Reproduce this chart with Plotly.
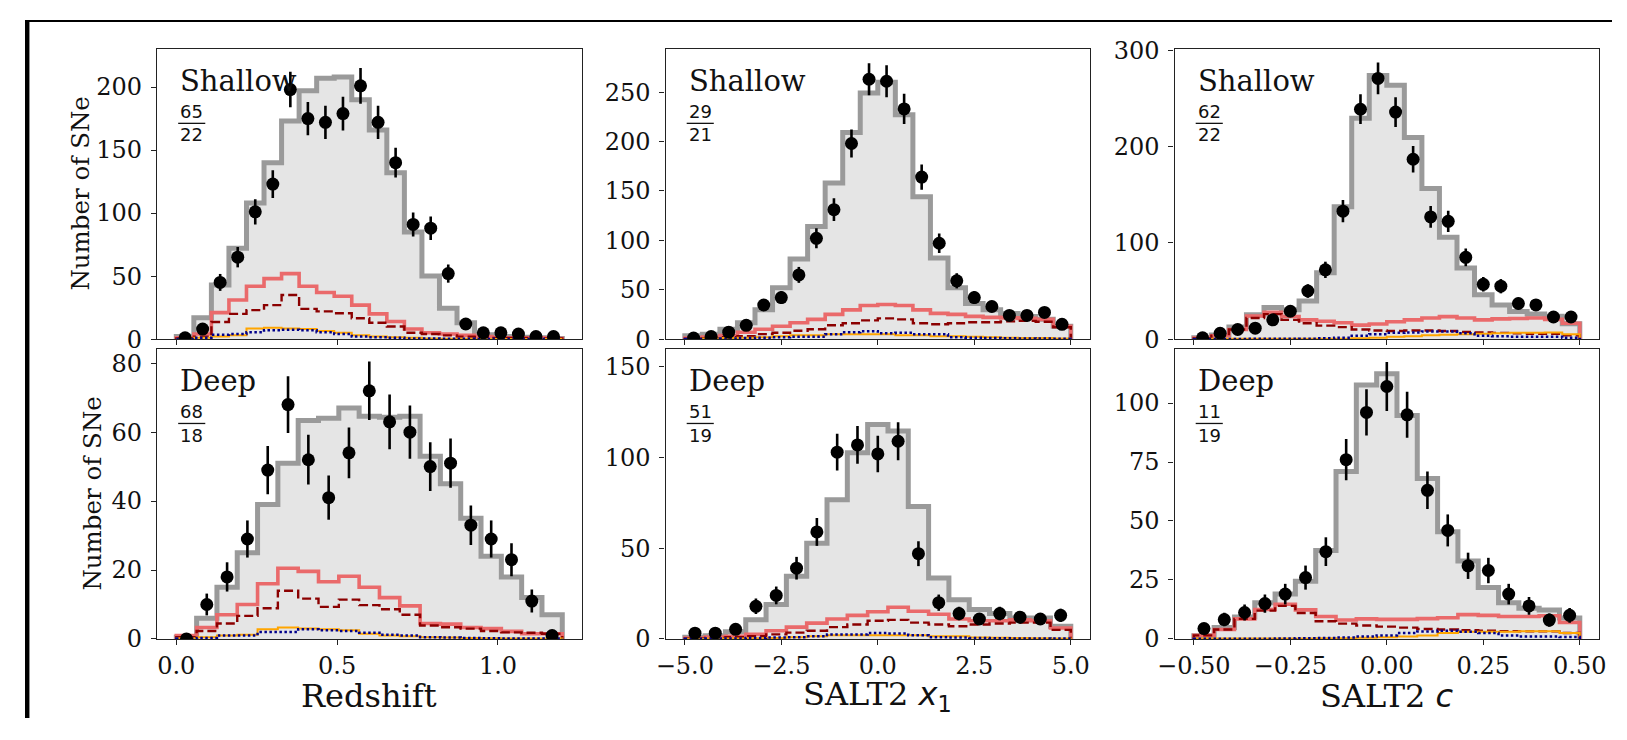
import numpy as np
import plotly.graph_objects as go

# The page body keeps the browser's 8px margin, so the figure is drawn at (8, 8)
# and sized so that no scrollbars appear in the 1627x740 window.
OFF = 8
W, H = 1627 - 2 * OFF, 740 - 2 * OFF

# ---------------- data ----------------
z_edges_shallow = np.linspace(0.0, 1.2, 23)
z_edges_deep = np.linspace(0.0, 1.2, 20)
x1_edges_shallow = np.linspace(-5.0, 5.0, 23)
x1_edges_deep = np.linspace(-5.0, 5.0, 20)
c_edges_shallow = np.linspace(-0.5, 0.5, 23)
c_edges_deep = np.linspace(-0.5, 0.5, 20)

# Redshift, Shallow
za_data = [1, 8, 45, 65, 101, 123, 198, 175, 172, 179, 201, 172, 140, 91, 88, 52, 12, 5, 5, 4, 2, 2]
za_sim = [2, 17, 43, 72, 108, 140, 173, 197, 207, 208, 190, 166, 132, 85, 50, 24.5, 13, 3.5, 2, 1.5, 1, 0.5]
za_red = [1, 4, 21, 31, 42, 48, 52, 42, 37, 34, 27, 20, 14, 8, 5, 4, 3, 2, 1, 1, 1, 0.5]
za_darkred = [0.5, 2, 13.6, 20, 23, 27, 35, 24, 22, 20.5, 16.5, 13, 10, 5, 4, 3, 2, 1.5, 1, 1, 0.5, 0.5]
za_orange = [0, 1, 2, 3, 8.5, 9, 8.5, 8, 6.5, 5, 3, 2, 1.5, 1, 0.5, 0.3, 0.2, 0.1, 0, 0, 0, 0]
za_blue = [0, 1, 3.5, 4, 5.5, 7, 7.5, 7, 5.5, 4, 2, 1.5, 1, 0.5, 0.4, 0.3, 0.2, 0.1, 0, 0, 0, 0]

# Redshift, Deep
zb_data = [0, 10, 18, 29, 49, 68, 52, 41, 54, 72, 63, 60, 50, 51, 33, 29, 23, 11, 1]
zb_sim = [0.5, 6, 15, 25, 39, 51, 63.4, 64, 67, 64.6, 64.3, 64.6, 53, 45, 35, 24, 18, 12, 7]
zb_red = [1, 3.3, 7, 10, 16, 20.5, 19.6, 16.6, 18.2, 15, 12, 9.6, 4.5, 4.3, 3.3, 3, 2.2, 1.5, 1.5]
zb_darkred = [0.5, 2.3, 4.5, 6.7, 8.9, 14, 11.7, 9.3, 11.4, 9.8, 8.6, 7, 3.9, 3.4, 3, 2.3, 1.9, 1.8, 1.5]
zb_orange = [0.2, 0.5, 1, 1.2, 2.8, 3.3, 3, 2.8, 2.5, 1.5, 1, 0.8, 0.5, 0.4, 0.3, 0.2, 0.1, 0.1, 0.1]
zb_blue = [0.1, 0.3, 1, 1, 2, 2, 2.8, 2.5, 2.3, 1.8, 1.2, 1, 0.5, 0.4, 0.3, 0.2, 0.1, 0.1, 0.1]

# SALT2 x1, Shallow
xa_data = [1, 2.6, 7, 14, 34.5, 42, 65, 102, 131, 198, 263, 261, 233, 164, 97, 59, 42, 33, 24, 24, 27, 15]
xa_sim = [3.5, 5, 10, 16.6, 29.6, 52, 81, 114, 158, 209, 249, 260, 227, 144, 82, 52, 36, 29.6, 26, 23, 20, 13]
xa_red = [1, 2, 3.5, 7, 10, 13, 16.6, 20, 25, 29.6, 34, 35, 34, 29.6, 26, 25, 23, 22, 21.5, 21, 20, 13]
xa_darkred = [0.5, 1, 2, 3, 5, 6.5, 8.5, 10, 14, 16, 19, 21, 20, 16, 15, 16, 17, 17, 18, 18.5, 17.5, 12]
xa_orange = [0.2, 0.5, 1, 1.5, 2, 3, 4, 4, 5, 5, 5, 5, 4, 4, 3, 3, 2.5, 2, 1.5, 1.2, 1, 0.5]
xa_blue = [0.1, 0.2, 0.5, 1, 1.5, 2, 2.5, 2.5, 5, 7, 8, 6, 6.5, 5, 5, 2, 1.5, 1, 0.8, 0.6, 0.5, 0.3]

# SALT2 x1, Deep
xb_data = [3.2, 3.2, 5.3, 18, 24, 39, 59, 103, 107, 102, 109, 47, 20, 14, 11, 14, 12, 11, 13]
xb_sim = [1, 1.8, 4, 10.6, 19, 34.5, 52.8, 76.7, 102.7, 118.3, 114.6, 73, 33.6, 21.6, 16.3, 14, 11.5, 11.5, 7]
xb_red = [0.5, 1, 1.5, 2.5, 4.5, 6.5, 8.7, 11, 13, 15, 17.5, 15.3, 13.6, 11, 10, 10, 10.5, 10, 6]
xb_darkred = [0.3, 0.5, 1, 1.5, 2.5, 3.5, 4.5, 6.5, 8, 10, 10.5, 9, 8, 7, 8, 8.5, 9, 9, 5]
xb_orange = [0.1, 0.2, 0.3, 0.4, 0.5, 1, 1.5, 2, 2, 2, 2, 2, 1.5, 1.5, 0.8, 0.6, 0.5, 0.4, 0.3]
xb_blue = [0.1, 0.2, 0.3, 0.5, 0.8, 1, 1.5, 2.5, 2.5, 3.3, 3, 2, 1, 0.8, 0.5, 0.4, 0.3, 0.3, 0.2]

# SALT2 c, Shallow
ca_data = [1.3, 6, 10, 11.4, 20, 29, 50, 72, 133, 239, 271, 236, 187, 127, 122.5, 85, 57, 55, 37, 35.5, 23, 23]
ca_sim = [1.3, 4.4, 12.7, 25.4, 32.8, 30.5, 39.5, 69, 137.6, 229.7, 274, 263.8, 209.6, 156.7, 105.8, 74, 46.2, 35.5, 28.8, 26, 23.8, 16]
ca_red = [1, 3.5, 10, 24, 28, 23.5, 20, 18.5, 17, 14.5, 15.7, 18, 20, 22, 23.4, 22, 20, 21, 21.5, 22, 20.5, 16.5]
ca_darkred = [1, 3.5, 10, 22, 26, 20, 16.5, 14, 12.5, 10, 9, 8.5, 9, 9, 8.5, 7.5, 7, 6.5, 6, 5.5, 5.5, 4]
ca_orange = [0.3, 0.3, 0.3, 0.3, 0.4, 0.4, 0.5, 0.5, 0.5, 0.8, 1.5, 2.5, 3, 4, 4.5, 5, 5.5, 6, 6.5, 6.5, 7, 5]
ca_blue = [0.2, 0.2, 0.2, 0.3, 0.3, 0.4, 0.5, 0.8, 1.5, 3.5, 5, 6.5, 7, 8, 8, 6, 3.5, 3, 2.5, 2.5, 2.5, 1.5]

# SALT2 c, Deep
cb_data = [4.4, 8.2, 11.2, 15, 19, 26, 37, 76, 96, 107, 95, 63, 46, 31, 29, 19, 14, 8, 10]
cb_sim = [1.4, 4.8, 9.3, 15.3, 19, 24.5, 37.5, 71, 107.6, 112.4, 94.7, 68, 45.4, 33, 21.8, 15.3, 13, 12.3, 8.9]
cb_red = [1.5, 4, 8.5, 12.5, 14.7, 12.3, 9.5, 8, 8.5, 8.3, 8.3, 8.6, 9, 10.3, 10, 9.5, 9.5, 9.8, 7]
cb_darkred = [1.5, 4, 8.5, 12, 14, 11, 7.5, 6.5, 5.7, 5.2, 4.8, 4.2, 4, 3.7, 3.5, 3.3, 3.2, 3.2, 2.5]
cb_orange = [0.2, 0.2, 0.2, 0.2, 0.2, 0.2, 0.3, 0.3, 0.5, 0.7, 1, 1.5, 2.5, 3, 3, 3, 3.3, 3.3, 2.5]
cb_blue = [0.1, 0.1, 0.1, 0.1, 0.2, 0.3, 0.4, 0.6, 1, 1.5, 2.5, 3.2, 3.5, 3, 2.5, 1.5, 1, 1, 0.8]

panel_labels = ["Shallow", "Shallow", "Shallow", "Deep", "Deep", "Deep"]
chi2_num = ["65", "29", "62", "68", "51", "11"]
chi2_den = ["22", "21", "22", "18", "19", "19"]
x_titles = ["Redshift",
            "SALT2 <span style='font-family:DejaVu Sans'><i>x</i><sub>1</sub></span>",
            "SALT2 <span style='font-family:DejaVu Sans'><i>c</i></span>"]
y_title = "Number of SNe"

z_ticks = [0.0, 0.5, 1.0]
z_ticktext = ["0.0", "0.5", "1.0"]
x1_ticks = [-5.0, -2.5, 0.0, 2.5, 5.0]
x1_ticktext = ["\u22125.0", "\u22122.5", "0.0", "2.5", "5.0"]
c_ticks = [-0.5, -0.25, 0.0, 0.25, 0.5]
c_ticktext = ["\u22120.50", "\u22120.25", "0.00", "0.25", "0.50"]

panels = [
    (z_edges_shallow, za_data, za_sim, za_red, za_darkred, za_orange, za_blue),
    (x1_edges_shallow, xa_data, xa_sim, xa_red, xa_darkred, xa_orange, xa_blue),
    (c_edges_shallow, ca_data, ca_sim, ca_red, ca_darkred, ca_orange, ca_blue),
    (z_edges_deep, zb_data, zb_sim, zb_red, zb_darkred, zb_orange, zb_blue),
    (x1_edges_deep, xb_data, xb_sim, xb_red, xb_darkred, xb_orange, xb_blue),
    (c_edges_deep, cb_data, cb_sim, cb_red, cb_darkred, cb_orange, cb_blue),
]
x_ranges = [[-0.06, 1.26], [-5.5, 5.5], [-0.55, 0.55]]
y_ranges = [[0, 230.5], [0, 294], [0, 302], [0, 84.2], [0, 160], [0, 123]]
y_ticks = [[0, 50, 100, 150, 200], [0, 50, 100, 150, 200, 250], [0, 100, 200, 300],
           [0, 20, 40, 60, 80], [0, 50, 100, 150], [0, 25, 50, 75, 100]]
x_tick_sets = [(z_ticks, z_ticktext), (x1_ticks, x1_ticktext), (c_ticks, c_ticktext)]

# ---------------- layout geometry (window pixels) ----------------
col_left = [142.0, 658.2, 1174.9]
col_w = 431.0
row_top = [37.7, 349.0]
row_bot = [339.0, 650.0]


def px_x(p):
    return (p - OFF) / W


def px_y(p):
    return 1 - (p - OFF) / H


def step_xy(edges, vals):
    edges = list(edges)
    vals = list(vals)
    xs = [edges[0]] + edges + [edges[-1]]
    ys = [0] + vals + [vals[-1], 0]
    return xs, ys


SERIF = "DejaVu Serif"
SANS = "DejaVu Sans"
INK = "#111111"

fig = go.Figure()
annotations = []
shapes = []
layout_axes = {}

for i, (edges, data, sim, red, dred, orng, blue) in enumerate(panels):
    r, c = divmod(i, 3)
    n = i + 1
    xa = "x" if n == 1 else f"x{n}"
    ya = "y" if n == 1 else f"y{n}"
    centers = 0.5 * (np.asarray(edges[:-1]) + np.asarray(edges[1:]))

    sx, sy = step_xy(edges, sim)
    fig.add_trace(go.Scatter(x=sx, y=sy, mode="lines", line_shape="hv",
                             fill="tozeroy", fillcolor="#e5e5e5",
                             line=dict(color="#9a9a9a", width=5),
                             xaxis=xa, yaxis=ya, showlegend=False, hoverinfo="skip"))
    rx, ry = step_xy(edges, red)
    fig.add_trace(go.Scatter(x=rx, y=ry, mode="lines", line_shape="hv",
                             line=dict(color="#ea6a6b", width=3.6),
                             xaxis=xa, yaxis=ya, showlegend=False, hoverinfo="skip"))
    dx, dy = step_xy(edges, dred)
    fig.add_trace(go.Scatter(x=dx, y=dy, mode="lines", line_shape="hv",
                             line=dict(color="#8b0000", width=2.4, dash="9px,4px"),
                             xaxis=xa, yaxis=ya, showlegend=False, hoverinfo="skip"))
    ox, oy = step_xy(edges, orng)
    fig.add_trace(go.Scatter(x=ox, y=oy, mode="lines", line_shape="hv",
                             line=dict(color="#ffa500", width=2),
                             xaxis=xa, yaxis=ya, showlegend=False, hoverinfo="skip"))
    bx, by = step_xy(edges, blue)
    fig.add_trace(go.Scatter(x=bx, y=by, mode="lines", line_shape="hv",
                             line=dict(color="#00008b", width=2.5, dash="2.5px,2.5px"),
                             xaxis=xa, yaxis=ya, showlegend=False, hoverinfo="skip"))
    fig.add_trace(go.Scatter(x=centers, y=data, mode="markers",
                             marker=dict(color="black", size=13),
                             error_y=dict(type="data", array=np.sqrt(np.asarray(data, float)),
                                          visible=True, color="black", thickness=2.6, width=0),
                             xaxis=xa, yaxis=ya, showlegend=False, hoverinfo="skip"))

    tv, tt = x_tick_sets[c]
    axis_common = dict(showgrid=False, zeroline=False, showline=True, mirror=True,
                       linecolor="#222222", linewidth=1.4, ticks="outside", ticklen=5,
                       tickwidth=1.3, tickcolor="#222222",
                       tickfont=dict(family=SERIF, size=24, color=INK))
    layout_axes["xaxis" if n == 1 else f"xaxis{n}"] = dict(
        domain=[px_x(col_left[c]), px_x(col_left[c] + col_w)],
        anchor=ya, range=x_ranges[c], tickvals=tv, ticktext=tt,
        showticklabels=(r == 1), **axis_common)
    layout_axes["yaxis" if n == 1 else f"yaxis{n}"] = dict(
        domain=[px_y(row_bot[r]), px_y(row_top[r])],
        anchor=xa, range=y_ranges[i], tickvals=y_ticks[i], ticklabelstandoff=4,
        **axis_common)

    left = col_left[c]
    top = row_top[r]
    annotations.append(dict(text=panel_labels[i], xref="paper", yref="paper",
                            x=px_x(left + 21.5), y=px_y(top + 33.5), xanchor="left", yanchor="middle",
                            showarrow=False, font=dict(family=SERIF, size=29, color=INK)))
    annotations.append(dict(text=chi2_num[i], xref="paper", yref="paper",
                            x=px_x(left + 35.5), y=px_y(top + 65), xanchor="center", yanchor="middle",
                            showarrow=False, font=dict(family=SANS, size=18, color=INK)))
    annotations.append(dict(text=chi2_den[i], xref="paper", yref="paper",
                            x=px_x(left + 35.5), y=px_y(top + 89.5), xanchor="center", yanchor="middle",
                            showarrow=False, font=dict(family=SANS, size=18, color=INK)))
    shapes.append(dict(type="line", xref="paper", yref="paper",
                       x0=px_x(left + 21.5), x1=px_x(left + 49), y0=px_y(top + 77.5), y1=px_y(top + 77.5),
                       line=dict(color=INK, width=1.3)))

for c in range(3):
    annotations.append(dict(text=x_titles[c], xref="paper", yref="paper",
                            x=px_x(col_left[c] + col_w / 2), y=px_y(709), xanchor="center", yanchor="middle",
                            showarrow=False, font=dict(family=SERIF, size=32, color=INK)))
for yc, xc in [(188.5, 63.4), (499.5, 76.8)]:
    annotations.append(dict(text=y_title, xref="paper", yref="paper", textangle=-90,
                            x=px_x(xc), y=px_y(yc), xanchor="center", yanchor="middle",
                            showarrow=False, font=dict(family=SERIF, size=24.5, color=INK)))

# black bands along the top and left edges of the reference image
shapes.append(dict(type="rect", xref="paper", yref="paper", x0=0, x1=1, y0=px_y(10), y1=1,
                   fillcolor="black", line=dict(width=0), layer="above"))
shapes.append(dict(type="rect", xref="paper", yref="paper", x0=0, x1=px_x(12.5), y0=0, y1=1,
                   fillcolor="black", line=dict(width=0), layer="above"))

fig.update_layout(width=W, height=H, margin=dict(l=0, r=0, t=0, b=0),
                  paper_bgcolor="white", plot_bgcolor="white",
                  annotations=annotations, shapes=shapes, showlegend=False,
                  **layout_axes)

fig.write_html("out.html", config={"displayModeBar": False})
